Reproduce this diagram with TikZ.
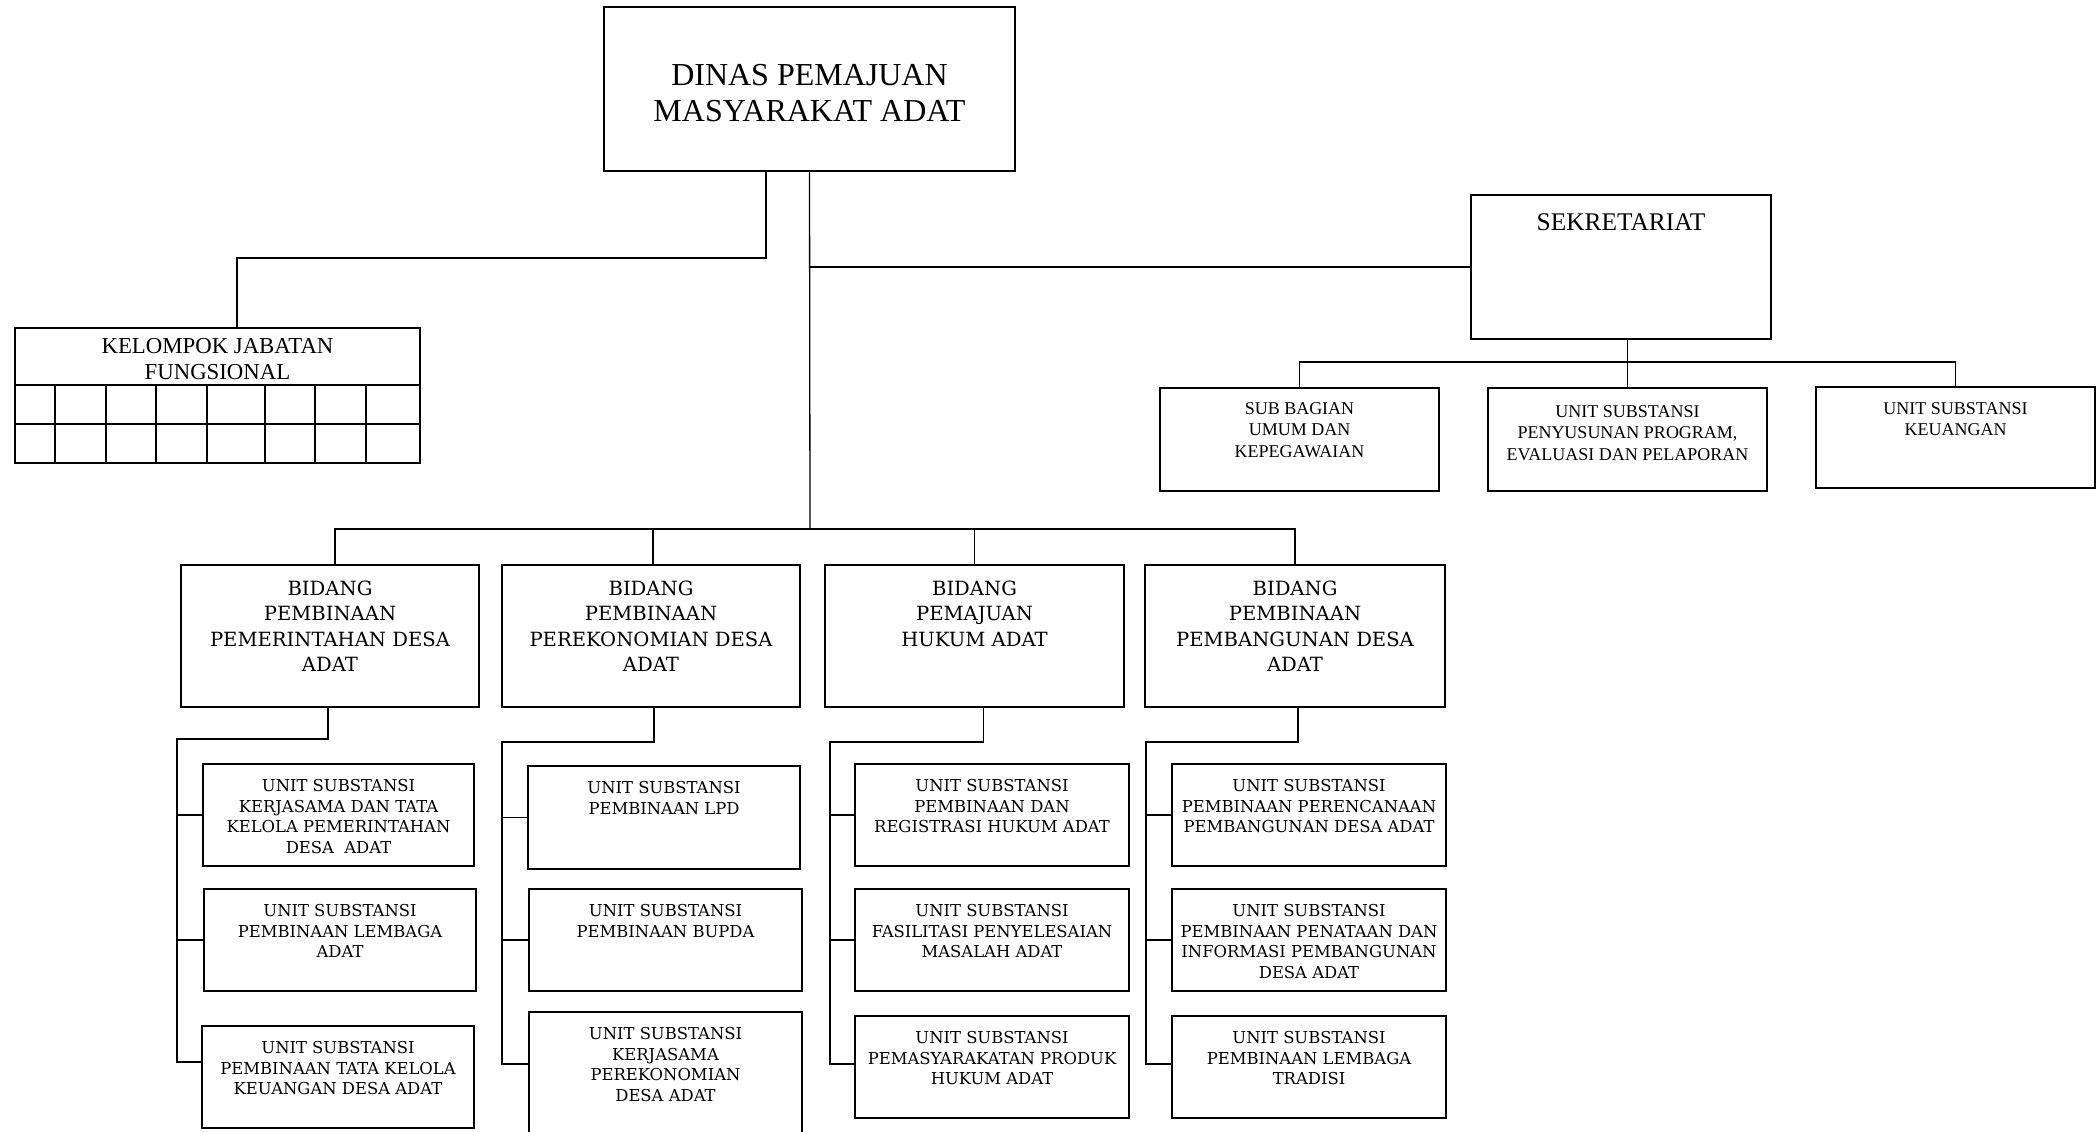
\documentclass[tikz,border=0pt]{standalone}
\usepackage{fontspec}
\setmainfont{Liberation Serif}
\newfontfamily\widefont{DejaVu Serif}
\usetikzlibrary{positioning}

\tikzset{
  box/.style={draw, line width=1.5pt, inner sep=0pt, outer sep=0pt, anchor=north west},
  link/.style={line width=1.3pt},
  grid/.style={line width=1.8pt},
  txt/.style={inner sep=0pt, align=center, anchor=north},
  subtxt/.style={txt, font=\fontsize{18}{21.5}\selectfont},
  bidtxt/.style={txt, font=\widefont\fontsize{19.6}{25.4}\selectfont},
  unittxt/.style={txt, font=\widefont\fontsize{16.4}{20.5}\selectfont},
}

\begin{document}
\begin{tikzpicture}[x=1pt,y=-1pt]
\useasboundingbox (0,0) rectangle (2099,1132);

% kepala dinas
\node[box, minimum width=411pt, minimum height=164pt] (dinas) at (604,7) {};
\node[inner sep=0pt, align=center, font=\fontsize{32}{36}\selectfont] (dinast)
  at ([yshift=-4pt]dinas.center) {DINAS PEMAJUAN\\MASYARAKAT ADAT};

% kelompok jabatan fungsional
\node[box, line width=1.8pt, minimum width=405pt, minimum height=57pt] (kjf) at (15,328) {};
\node[inner sep=0pt, align=center, font=\fontsize{22.8}{26}\selectfont] (kjft)
  at ([yshift=-3pt]kjf.center) {KELOMPOK JABATAN\\FUNGSIONAL};
\draw[grid] (15,385) rectangle (420,463);
\draw[grid] (15,424) -- (420,424);
\foreach \x in {55,106,156,207,265,315,366}
  \draw[grid] (\x,385) -- (\x,463);

% sekretariat
\node[box, minimum width=300pt, minimum height=144pt] (sek) at (1471,195) {};
\node[txt, font=\fontsize{25.4}{28}\selectfont] (sekt) at ([yshift=-18.6pt]sek.north) {SEKRETARIAT};

\node[box, minimum width=279pt, minimum height=103pt] (sub) at (1160,388) {};
\node[box, minimum width=279pt, minimum height=103pt] (pen) at (1488,388) {};
\node[box, minimum width=279pt, minimum height=101pt] (keu) at (1816,387) {};
\node[subtxt] (subt) at ([yshift=-14pt]sub.north) {SUB BAGIAN\\UMUM DAN\\KEPEGAWAIAN};
\node[subtxt] (pent) at ([yshift=-17pt]pen.north) {UNIT SUBSTANSI\\PENYUSUNAN PROGRAM,\\EVALUASI DAN PELAPORAN};
\node[subtxt] (keut) at ([yshift=-15pt]keu.north) {UNIT SUBSTANSI\\KEUANGAN};

% bidang
\node[box, minimum width=298pt, minimum height=142pt] (b1) at (181,565) {};
\node[box, minimum width=298pt, minimum height=142pt] (b2) at (502,565) {};
\node[box, minimum width=299pt, minimum height=142pt] (b3) at (825,565) {};
\node[box, minimum width=300pt, minimum height=142pt] (b4) at (1145,565) {};
\node[bidtxt] (b1t) at ([yshift=-15.6pt]b1.north) {BIDANG\\PEMBINAAN\\PEMERINTAHAN DESA\\ADAT};
\node[bidtxt] (b2t) at ([yshift=-15.6pt]b2.north) {BIDANG\\PEMBINAAN\\PEREKONOMIAN DESA\\ADAT};
\node[bidtxt] (b3t) at ([yshift=-15.6pt]b3.north) {BIDANG\\PEMAJUAN\\HUKUM ADAT};
\node[bidtxt] (b4t) at ([yshift=-15.6pt]b4.north) {BIDANG\\PEMBINAAN\\PEMBANGUNAN DESA\\ADAT};

% unit substansi
\node[box, minimum width=271pt, minimum height=102pt] (u11) at (203,764) {};
\node[box, minimum width=272pt, minimum height=102pt] (u12) at (204,889) {};
\node[box, minimum width=272pt, minimum height=102pt] (u13) at (202,1026) {};
\node[box, minimum width=272pt, minimum height=103pt] (u21) at (528,766) {};
\node[box, minimum width=273pt, minimum height=102pt] (u22) at (529,889) {};
\node[box, minimum width=273pt, minimum height=140pt] (u23) at (529,1012) {};
\node[box, minimum width=274pt, minimum height=102pt] (u31) at (855,764) {};
\node[box, minimum width=274pt, minimum height=102pt] (u32) at (855,889) {};
\node[box, minimum width=274pt, minimum height=102pt] (u33) at (855,1016) {};
\node[box, minimum width=274pt, minimum height=102pt] (u41) at (1172,764) {};
\node[box, minimum width=274pt, minimum height=102pt] (u42) at (1172,889) {};
\node[box, minimum width=274pt, minimum height=102pt] (u43) at (1172,1016) {};

\node[unittxt] (u11t) at ([yshift=-15.5pt]u11.north) {UNIT SUBSTANSI\\KERJASAMA DAN TATA\\KELOLA PEMERINTAHAN\\DESA\ \ ADAT};
\node[unittxt] (u12t) at ([yshift=-15.5pt]u12.north) {UNIT SUBSTANSI\\PEMBINAAN LEMBAGA\\ADAT};
\node[unittxt] (u13t) at ([yshift=-15.5pt]u13.north) {UNIT SUBSTANSI\\PEMBINAAN TATA KELOLA\\KEUANGAN DESA ADAT};
\node[unittxt] (u21t) at ([yshift=-15.5pt]u21.north) {UNIT SUBSTANSI\\PEMBINAAN LPD};
\node[unittxt] (u22t) at ([yshift=-15.5pt]u22.north) {UNIT SUBSTANSI\\PEMBINAAN BUPDA};
\node[unittxt] (u23t) at ([yshift=-15.5pt]u23.north) {UNIT SUBSTANSI\\KERJASAMA\\PEREKONOMIAN\\DESA ADAT};
\node[unittxt] (u31t) at ([yshift=-15.5pt]u31.north) {UNIT SUBSTANSI\\PEMBINAAN DAN\\REGISTRASI HUKUM ADAT};
\node[unittxt] (u32t) at ([yshift=-15.5pt]u32.north) {UNIT SUBSTANSI\\FASILITASI PENYELESAIAN\\MASALAH ADAT};
\node[unittxt] (u33t) at ([yshift=-15.5pt]u33.north) {UNIT SUBSTANSI\\PEMASYARAKATAN PRODUK\\HUKUM ADAT};
\node[unittxt] (u41t) at ([yshift=-15.5pt]u41.north) {UNIT SUBSTANSI\\PEMBINAAN PERENCANAAN\\PEMBANGUNAN DESA ADAT};
\node[unittxt] (u42t) at ([yshift=-15.5pt]u42.north) {UNIT SUBSTANSI\\PEMBINAAN PENATAAN DAN\\INFORMASI PEMBANGUNAN\\DESA ADAT};
\node[unittxt] (u43t) at ([yshift=-15.5pt]u43.north) {UNIT SUBSTANSI\\PEMBINAAN LEMBAGA\\TRADISI};

% garis atas
\coordinate (hub) at (810,529);
\coordinate (kj) at (766,258);
\coordinate (kd) at (237,328);
\draw[link] (dinas.south) -- (hub);
\draw[link] (kj |- dinas.south) -- (kj) -| (kd);
\draw[link] (dinas.south |- sek.west) -- (sek.west);

\coordinate (sbus) at (1627,362);
\draw[link] (sek.south -| pen.north) -- (pen.north);
\draw[link] (sub.north) |- (sbus) -| (keu.north);

\draw[link] ([xshift=5pt]b1.north) |- (hub) -| (b4.north);
\draw[link] ([xshift=2pt]b2.north) -- ([xshift=2pt]b2.north |- hub);
\draw[link] (b3.north) -- (b3.north |- hub);

% garis bidang ke unit
\coordinate (c1) at (177,739);  \coordinate (e1) at (177,1062);
\coordinate (c2) at (502,742);  \coordinate (e2) at (502,1064);
\coordinate (c3) at (830,742);  \coordinate (e3) at (830,1064);
\coordinate (c4) at (1146,742); \coordinate (e4) at (1146,1064);
\foreach \i/\dx in {1/-2,2/3,3/9,4/3} {
  \draw[link] ([xshift=\dx pt]b\i.south) |- (c\i) -- (e\i) -- (e\i -| u\i3.west);
  \draw[link] (u\i1.west) -- (u\i1.west -| c\i);
  \draw[link] (u\i2.west) -- (u\i2.west -| c\i);
}

\end{tikzpicture}
\end{document}
